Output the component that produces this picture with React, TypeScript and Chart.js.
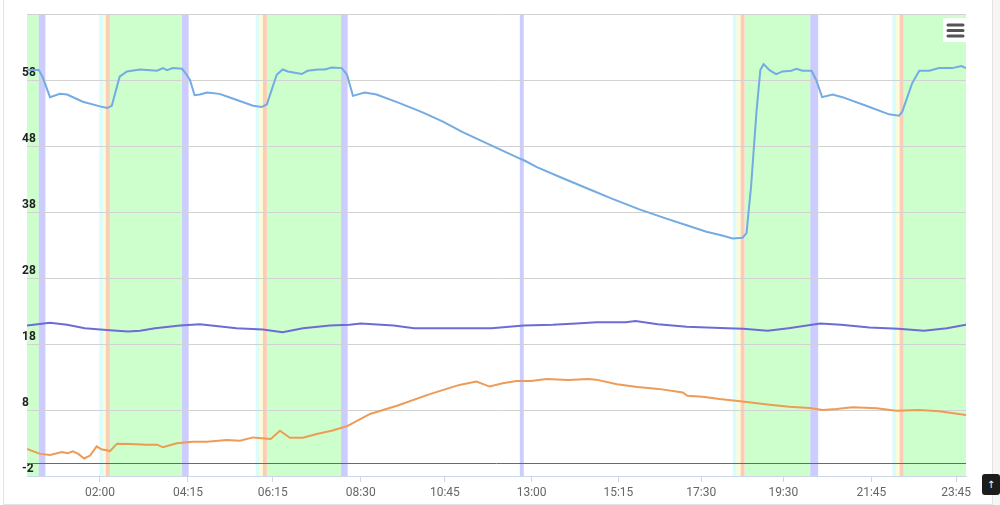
import React, { useEffect, useRef } from "react";
import { Chart, registerables } from "chart.js";

Chart.register(...registerables);

// x positions are minutes along the day axis (axis runs 00:10 → 23:59)
const blueX = [10, 28, 34, 45, 60, 71, 95, 121, 132, 139, 151, 162, 182, 208, 217, 223, 232, 246, 253, 258, 265, 273, 284, 303, 323, 354, 367, 375, 390, 399, 407, 428, 437, 453, 463, 474, 489, 497, 506, 524, 542, 577, 612, 643, 673, 714, 760, 767, 786, 821, 862, 901, 942, 983, 1014, 1044, 1068, 1084, 1099, 1105, 1112, 1120, 1126, 1131, 1140, 1150, 1160, 1173, 1181, 1190, 1204, 1211, 1220, 1236, 1251, 1287, 1322, 1337, 1342, 1357, 1368, 1383, 1398, 1418, 1432, 1439];
const blueY = [59.5, 59.5, 58.4, 55.4, 55.9, 55.8, 54.7, 54.0, 53.75, 54.1, 58.5, 59.3, 59.6, 59.4, 59.8, 59.5, 59.8, 59.7, 58.8, 58.0, 55.7, 55.8, 56.1, 55.9, 55.2, 54.1, 53.9, 54.3, 58.8, 59.6, 59.3, 58.9, 59.4, 59.6, 59.6, 59.9, 59.8, 58.8, 55.6, 56.1, 55.8, 54.5, 53.1, 51.7, 50.1, 48.2, 46.1, 45.8, 44.8, 43.3, 41.6, 40.0, 38.4, 37.0, 36.0, 35.0, 34.45, 34.0, 34.1, 34.8, 42.0, 53.0, 59.5, 60.4, 59.5, 58.9, 59.3, 59.4, 59.7, 59.4, 59.4, 58.0, 55.4, 55.8, 55.4, 54.1, 52.8, 52.6, 53.2, 57.5, 59.4, 59.4, 59.8, 59.8, 60.1, 59.8];

const purpleX = [10, 45, 71, 98, 136, 164, 182, 205, 243, 273, 329, 369, 399, 430, 471, 501, 518, 568, 599, 673, 717, 766, 810, 846, 877, 921, 936, 970, 1014, 1076, 1100, 1137, 1169, 1217, 1249, 1292, 1336, 1375, 1410, 1439];
const purpleY = [20.8, 21.2, 20.9, 20.4, 20.1, 19.9, 20.0, 20.4, 20.8, 21.0, 20.4, 20.2, 19.8, 20.4, 20.8, 20.9, 21.1, 20.8, 20.4, 20.4, 20.4, 20.8, 20.9, 21.1, 21.3, 21.3, 21.5, 21.0, 20.6, 20.4, 20.3, 20.0, 20.4, 21.1, 20.9, 20.5, 20.3, 20.0, 20.4, 20.9];

const orangeX = [10, 30, 45, 63, 72, 80, 88, 97, 106, 116, 124, 132, 136, 147, 167, 192, 208, 217, 238, 262, 284, 314, 334, 354, 381, 395, 410, 430, 451, 475, 498, 532, 573, 623, 668, 694, 714, 734, 755, 777, 801, 834, 864, 876, 908, 939, 971, 1008, 1015, 1038, 1064, 1099, 1140, 1170, 1201, 1221, 1242, 1266, 1303, 1333, 1368, 1398, 1439];
const orangeY = [2.1, 1.35, 1.2, 1.65, 1.45, 1.75, 1.35, 0.65, 1.1, 2.5, 2.0, 1.9, 1.75, 2.9, 2.85, 2.75, 2.75, 2.35, 2.95, 3.2, 3.2, 3.45, 3.35, 3.85, 3.6, 4.85, 3.8, 3.8, 4.35, 4.9, 5.6, 7.4, 8.65, 10.4, 11.8, 12.3, 11.55, 12.05, 12.4, 12.4, 12.7, 12.55, 12.7, 12.6, 11.9, 11.5, 11.2, 10.65, 10.15, 10.0, 9.65, 9.3, 8.8, 8.5, 8.3, 8.0, 8.15, 8.4, 8.25, 7.9, 8.0, 7.8, 7.25];

// plot bands [from, to] along the x axis
const greenBands = [[10, 28], [136, 246], [375, 488], [1102, 1202], [1344, 1439]];
const violetBands = [[28, 38], [246, 256], [488, 498], [760, 766], [1202, 1214]];
const cyanBands = [[120, 126], [358, 364], [1084, 1090], [1327, 1333]];
const yellowBands = [[126, 130], [364, 369], [1090, 1096], [1333, 1338]];
const salmonBands = [[130, 136], [369, 375], [1096, 1102], [1338, 1344]];

const xTickAt = [121, 255, 384, 518, 646, 778, 910, 1036, 1161, 1295, 1424];
const xTickLabels = ["02:00", "04:15", "06:15", "08:30", "10:45", "13:00", "15:15", "17:30", "19:30", "21:45", "23:45"];
const yTicks = [-2, 8, 18, 28, 38, 48, 58, 68];

const X_MIN = 10;
const X_MAX = 1439;
const Y_MIN = -2;
const Y_MAX = 68;

const toPoints = (xs: number[], ys: number[]) => xs.map((x, i) => ({ x, y: ys[i] }));

const bandsPlugin = {
  id: "bands",
  beforeDraw(chart: any) {
    const { ctx, chartArea, scales } = chart;
    const xs = scales.x;
    const groups: [number[][], string][] = [
      [greenBands, "#ccffcc"],
      [violetBands, "#ccccff"],
      [cyanBands, "#dcfcfc"],
      [yellowBands, "#fdfbd2"],
      [salmonBands, "#fbcdb8"],
    ];
    ctx.save();
    for (const [bands, color] of groups) {
      ctx.fillStyle = color;
      for (const [a, b] of bands) {
        const x1 = xs.getPixelForValue(a);
        const x2 = xs.getPixelForValue(b);
        ctx.fillRect(x1, chartArea.top, x2 - x1, chartArea.bottom - chartArea.top);
      }
    }
    ctx.restore();
  },
  beforeDatasetsDraw(chart: any) {
    const { ctx, chartArea, scales } = chart;
    const y0 = Math.round(scales.y.getPixelForValue(0)) + 0.5;
    ctx.save();
    ctx.strokeStyle = "#6a6a6a";
    ctx.lineWidth = 1;
    ctx.beginPath();
    ctx.moveTo(chartArea.left, y0);
    ctx.lineTo(chartArea.right, y0);
    ctx.stroke();
    ctx.restore();
  },
  afterDraw(chart: any) {
    const { ctx, chartArea } = chart;
    const r = chartArea.right;
    const t = chartArea.top;
    ctx.save();
    ctx.fillStyle = "#ffffff";
    ctx.fillRect(r - 23, t + 4, 24, 24);
    ctx.strokeStyle = "#555555";
    ctx.lineWidth = 3;
    ctx.lineCap = "round";
    for (const dy of [11, 16.5, 22]) {
      ctx.beginPath();
      ctx.moveTo(r - 18, t + dy);
      ctx.lineTo(r - 3, t + dy);
      ctx.stroke();
    }
    ctx.restore();
  },
};

export default function App() {
  const ref = useRef<HTMLCanvasElement>(null);

  useEffect(() => {
    if (!ref.current) return;
    const chart = new Chart(ref.current, {
      type: "line",
      data: {
        datasets: [
          {
            data: toPoints(blueX, blueY),
            borderColor: "#74abe2",
            borderWidth: 2,
          },
          {
            data: toPoints(purpleX, purpleY),
            borderColor: "#6c6cd4",
            borderWidth: 2,
          },
          {
            data: toPoints(orangeX, orangeY),
            borderColor: "#ee9b58",
            borderWidth: 2,
          },
        ],
      },
      options: {
        animation: false,
        responsive: false,
        maintainAspectRatio: false,
        devicePixelRatio: 1,
        layout: { padding: { left: 27, right: 34, top: 14, bottom: 0 } },
        elements: { point: { radius: 0 }, line: { tension: 0 } },
        plugins: {
          legend: { display: false },
          tooltip: { enabled: false },
          title: { display: false },
        },
        scales: {
          x: {
            type: "linear",
            min: X_MIN,
            max: X_MAX,
            afterBuildTicks: (s: any) => {
              s.ticks = xTickAt.map((v) => ({ value: v }));
            },
            afterFit: (s: any) => {
              s.height = 29;
            },
            ticks: {
              autoSkip: false,
              maxRotation: 0,
              padding: 4,
              color: "#666666",
              font: { family: "Roboto", size: 12 },
              callback: (v: any) => {
                const i = xTickAt.indexOf(Number(v));
                return i >= 0 ? xTickLabels[i] : "";
              },
            },
            grid: {
              drawOnChartArea: false,
              drawTicks: true,
              tickLength: 6,
              color: "#ccd6eb",
            },
            border: { display: true, color: "#ccd6eb" },
          },
          y: {
            type: "linear",
            min: Y_MIN,
            max: Y_MAX,
            afterBuildTicks: (s: any) => {
              s.ticks = yTicks.map((v) => ({ value: v }));
            },
            afterFit: (s: any) => {
              s.width = 0;
            },
            ticks: {
              mirror: true,
              padding: -5,
              labelOffset: -7,
              color: "#222222",
              font: { family: "Roboto", size: 12, weight: "bold" },
              callback: (v: any) => (Number(v) === Y_MAX ? "" : String(v)),
            },
            grid: { color: "#d2d2d2", drawTicks: false },
            border: { display: false },
          },
        },
      },
      plugins: [bandsPlugin],
    } as any);
    return () => chart.destroy();
  }, []);

  return (
    <div
      style={{
        position: "fixed",
        left: 0,
        top: 0,
        width: 1000,
        height: 505,
        background: "#ffffff",
        overflow: "hidden",
      }}
    >
      <div
        style={{
          position: "absolute",
          left: 3,
          top: -1,
          width: 990,
          height: 506,
          boxSizing: "border-box",
          border: "1px solid #e3e3e3",
        }}
      />
      <div
        style={{
          position: "absolute",
          left: 993,
          top: 0,
          width: 7,
          height: 505,
          background: "#f6f6f6",
        }}
      />
      <canvas
        ref={ref}
        width={1000}
        height={505}
        style={{ position: "absolute", left: 0, top: 0, width: 1000, height: 505 }}
      />
      <div
        style={{
          position: "absolute",
          left: 982,
          top: 474,
          width: 18,
          height: 21,
          background: "#1c1c1c",
          borderRadius: 3,
          color: "#ffffff",
          fontFamily: "DejaVu Sans, sans-serif",
          fontSize: 10,
          lineHeight: "21px",
          textAlign: "center",
        }}
      >
        ↑
      </div>
    </div>
  );
}
